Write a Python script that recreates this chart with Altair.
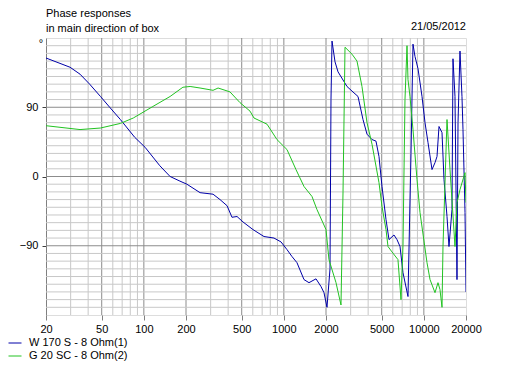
import altair as alt
import pandas as pd

# ---- data ----
blue_name = "W 170 S - 8 Ohm(1)"
green_name = "G 20 SC - 8 Ohm(2)"

blue_freq = [20, 29.7, 35, 41, 49, 57, 68, 86, 102, 130, 154, 181, 203, 252, 312, 350, 393, 426, 463, 510,
             602, 721, 850, 954, 1053, 1143, 1241, 1393, 1512, 1697, 1842, 1935, 2033, 2136, 2171, 2208,
             2320, 2437, 2825, 3067, 3386, 3676, 3926, 4262, 4550, 4781, 5024, 5366, 5637, 6118, 6428,
             6758, 7096, 7704, 8094, 8364, 8643, 9086, 9700, 10190, 10710, 11434, 12012, 12414, 12831,
             13480, 13931, 14636, 15120, 15886, 16148, 16686, 17248, 17540, 18117, 18719, 19034, 19680, 20000]
blue_phase = [154, 142, 133, 120, 104, 90, 74, 51, 38, 14, 0, -6, -10, -21, -23, -30, -38, -53, -52, -59,
              -69, -78, -80, -85, -95, -104, -112, -134, -138, -133, -143, -151, -170, -120, 100, 176,
              149, 136, 117, 111, 104, 74, 55, 48, 46, 26, -13, -56, -82, -76, -82,
              -91, -125, -156, 30, 172, 156, 140, 104, 70, 44, 9, 18, 26, 65,
              57, -4, -52, -91, -43, 153, 104, -134, 70, 163, 104, 61, -47, -150]

green_freq = [20, 35, 49, 68, 84, 116, 154, 190, 214, 252, 312, 339, 412, 486, 573, 612, 758, 893, 1053,
              1221, 1393, 1589, 1724, 2000, 2100, 2358, 2559, 2646, 2734, 3067, 3330, 3614, 3926, 4262,
              4781, 5024, 5366, 5545, 5920, 6532, 6867, 7096, 7332, 7580, 7704, 7962, 8364, 8934, 9388,
              10532, 11070, 12012, 12619, 13040, 13480, 13700, 14636, 15374, 16686, 17248, 18117, 19680, 20000]
green_phase = [66, 61, 63, 69, 76, 91, 104, 116, 117, 115, 112, 115, 110, 96, 85, 76, 68, 48, 35,
               9, -13, -26, -43, -69, -108, -138, -167, -20, 168, 159, 150, 117, 70, 42,
               -8, -39, -69, -91, -98, -108, -160, -90, 100, 170, 126, 104, 61, -4, -47,
               -112, -134, -151, -138, -147, -170, -91, 74, 9, -91, -34, -17, 5, -34]

x_labels = [20, 50, 100, 200, 500, 1000, 2000, 5000, 10000, 20000]
x_minor = [30, 40, 60, 70, 80, 90, 300, 400, 600, 700, 800, 900,
           3000, 4000, 6000, 7000, 8000, 9000]
x_major = [50, 100, 200, 500, 1000, 2000, 5000, 10000]
y_labels = [-90, 0, 90]
y_minor = [-170, -160, -150, -140, -130, -120, -110, -100, -80, -70, -60, -50, -40, -30, -20, -10,
           10, 20, 30, 40, 50, 60, 70, 80, 100, 110, 120, 130, 140, 150, 160, 170]

title_lines = ["Phase responses", "in main direction of box"]
date_text = "21/05/2012"

FONT = "Liberation Sans"

# ---- tables ----
rows = []
for i, (f, p) in enumerate(zip(blue_freq, blue_phase)):
    rows.append({"freq": f, "phase": p, "series": blue_name, "idx": i})
for i, (f, p) in enumerate(zip(green_freq, green_phase)):
    rows.append({"freq": f, "phase": p, "series": green_name, "idx": i})
df = pd.DataFrame(rows)

xscale = alt.Scale(type="log", domain=[20, 20000], nice=False)
yscale = alt.Scale(domain=[-180, 180], nice=False)

x_axis = alt.Axis(values=x_labels, format="d", title=None, grid=False, domain=False,
                  tickSize=5, tickColor="#808080", labelFontSize=11, labelFont=FONT,
                  labelColor="black", labelPadding=3, labelFlush=False, labelOverlap=False)
y_axis = alt.Axis(values=y_labels, format="d", title=None, grid=False, domainColor="#808080",
                  tickSize=4, tickColor="#404040", labelFontSize=11, labelFont=FONT,
                  labelColor="black", labelPadding=4)

vminor = alt.Chart(pd.DataFrame({"freq": x_minor})).mark_rule(color="#C8C8C8", strokeWidth=1).encode(
    x=alt.X("freq:Q", scale=xscale, axis=x_axis))
vmajor = alt.Chart(pd.DataFrame({"freq": x_major})).mark_rule(color="#8C8C8C", strokeWidth=1).encode(
    x=alt.X("freq:Q", scale=xscale, axis=x_axis))
hminor = alt.Chart(pd.DataFrame({"phase": y_minor})).mark_rule(color="#C8C8C8", strokeWidth=1).encode(
    y=alt.Y("phase:Q", scale=yscale, axis=y_axis))
hmajor = alt.Chart(pd.DataFrame({"phase": y_labels})).mark_rule(color="#8C8C8C", strokeWidth=1).encode(
    y=alt.Y("phase:Q", scale=yscale, axis=y_axis))

lines = alt.Chart(df).mark_line(strokeWidth=1, clip=True, interpolate="linear").encode(
    x=alt.X("freq:Q", scale=xscale, axis=x_axis),
    y=alt.Y("phase:Q", scale=yscale, axis=y_axis),
    color=alt.Color("series:N",
                    scale=alt.Scale(domain=[blue_name, green_name], range=["#0000A8", "#22C322"]),
                    legend=alt.Legend(title=None, orient="none", legendX=-38, legendY=298,
                                      symbolType="stroke", symbolSize=169, symbolStrokeWidth=1,
                                      labelFontSize=11, labelFont=FONT, labelColor="black",
                                      labelOffset=7, rowPadding=1, padding=0)),
    order="idx:Q",
)

deg = alt.Chart(pd.DataFrame({"phase": [180], "t": ["°"]})).mark_text(
    align="center", baseline="top", fontSize=11, font=FONT, color="black").encode(
    x=alt.value(-5), y=alt.Y("phase:Q", scale=yscale, axis=y_axis), text="t:N")

date = alt.Chart(pd.DataFrame({"t": [date_text]})).mark_text(
    align="right", baseline="middle", fontSize=11, font=FONT, color="black").encode(
    x=alt.value(420), y=alt.value(-11), text="t:N")

chart = alt.layer(vminor, vmajor, hminor, hmajor, lines, deg, date).properties(
    width=420, height=277,
    title=alt.TitleParams(title_lines, anchor="start", frame="group", fontSize=11,
                          fontWeight="normal", font=FONT, color="black", lineHeight=15,
                          offset=5, dy=18),
    autosize=alt.AutoSizeParams(type="none"),
    padding={"left": 38, "top": 30, "right": 34, "bottom": 46},
).configure_view(stroke="#808080").configure(background="white")

chart.save("out.html", embed_options={"renderer": "svg", "actions": False})
